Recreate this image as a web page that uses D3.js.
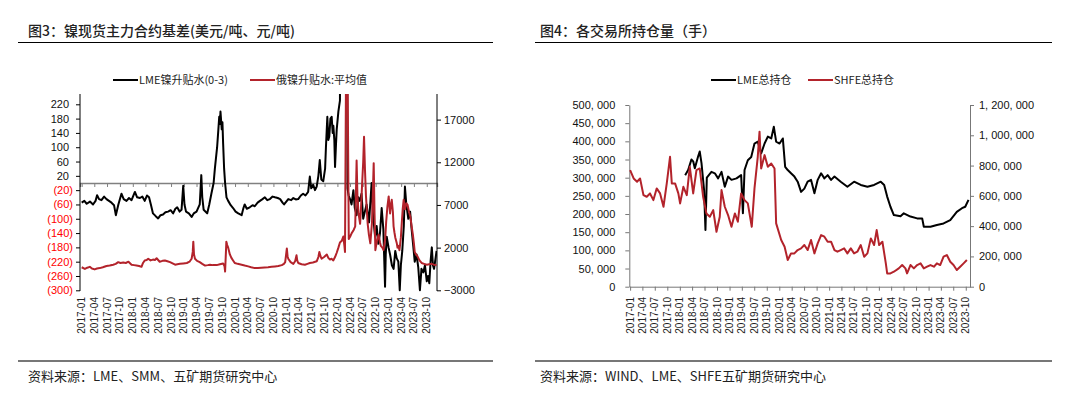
<!DOCTYPE html>
<html>
<head>
<meta charset="utf-8">
<script src="https://cdn.jsdelivr.net/npm/d3@7"></script>
<style>
  body { margin: 0; background: #fff; }
  .title { font-family: "Noto Sans CJK SC", sans-serif; font-size: 14px; font-weight: 500; fill: #222; }
  .legend { font-family: "Noto Sans CJK SC", sans-serif; font-size: 11px; fill: #222; }
  .source { font-family: "Noto Sans CJK SC", sans-serif; font-size: 13px; fill: #222; }
  .tick text { font-family: "Liberation Sans", Arial, sans-serif; font-size: 11px; }
  .xlab { font-family: "Liberation Sans", Arial, sans-serif; font-size: 10px; fill: #222; }
</style>
</head>
<body>
<div id="chart"></div>
<script>
// Step 1: Data
// =================================
var quarterLabels = ["2017-01","2017-04","2017-07","2017-10","2018-01","2018-04","2018-07","2018-10",
  "2019-01","2019-04","2019-07","2019-10","2020-01","2020-04","2020-07","2020-10",
  "2021-01","2021-04","2021-07","2021-10","2022-01","2022-04","2022-07","2022-10",
  "2023-01","2023-04","2023-07","2023-10"];

// 图3 left axis: LME镍升贴水(0-3), USD/t
var lmeBasis = [
  ["2017-01-01",-55],["2017-01-20",-50],["2017-02-06",-58],["2017-03-01",-52],["2017-03-23",-60],["2017-04-10",-50],
  ["2017-04-21",-34],["2017-05-05",-45],["2017-05-22",-48],["2017-06-10",-38],["2017-06-27",-45],["2017-07-15",-50],
  ["2017-08-02",-55],["2017-08-20",-62],["2017-09-02",-90],["2017-09-20",-60],["2017-10-12",-30],["2017-10-28",-45],
  ["2017-11-17",-50],["2017-12-05",-42],["2017-12-23",-48],["2018-01-16",-25],["2018-02-01",-40],["2018-02-21",-42],
  ["2018-03-10",-38],["2018-03-27",-50],["2018-04-12",-35],["2018-04-27",-40],["2018-05-10",-60],["2018-05-25",-85],
  ["2018-06-12",-92],["2018-07-01",-99],["2018-07-18",-90],["2018-08-05",-88],["2018-08-22",-82],["2018-09-10",-80],
  ["2018-09-28",-76],["2018-10-16",-85],["2018-11-01",-72],["2018-11-14",-68],["2018-12-01",-80],["2018-12-15",-75],
  ["2018-12-27",-8],["2019-01-05",-60],["2019-01-16",-80],["2019-02-05",-85],["2019-02-25",-95],["2019-03-12",-85],
  ["2019-04-01",-80],["2019-04-24",-60],["2019-05-05",22],["2019-05-12",-40],["2019-05-22",-75],["2019-06-16",-85],
  ["2019-07-01",-60],["2019-07-16",-30],["2019-08-01",0],["2019-08-10",40],["2019-08-26",100],["2019-09-04",150],
  ["2019-09-10",185],["2019-09-15",165],["2019-09-19",200],["2019-09-28",150],["2019-10-03",170],["2019-10-08",110],
  ["2019-10-15",40],["2019-10-22",0],["2019-11-01",-40],["2019-11-13",-50],["2019-12-01",-62],["2019-12-18",-70],
  ["2020-01-05",-80],["2020-01-24",-85],["2020-02-17",-90],["2020-03-01",-70],["2020-03-10",-60],["2020-03-25",-72],
  ["2020-04-15",-68],["2020-05-05",-62],["2020-05-21",-65],["2020-06-10",-55],["2020-06-27",-50],["2020-07-15",-45],
  ["2020-08-01",-40],["2020-08-18",-48],["2020-09-06",-45],["2020-09-25",-38],["2020-10-12",-40],["2020-11-01",-42],
  ["2020-11-18",-45],["2020-12-05",-55],["2020-12-16",-60],["2021-01-01",-52],["2021-01-15",-45],["2021-02-05",-48],
  ["2021-02-20",-42],["2021-03-10",-46],["2021-03-27",-45],["2021-04-15",-35],["2021-05-01",-30],["2021-05-18",-35],
  ["2021-06-06",-25],["2021-06-18",18],["2021-06-28",-15],["2021-07-12",-5],["2021-07-25",-20],["2021-08-06",-10],
  ["2021-08-18",20],["2021-08-28",64],["2021-09-08",10],["2021-09-22",5],["2021-10-05",40],["2021-10-11",100],
  ["2021-10-21",185],["2021-10-28",120],["2021-11-04",130],["2021-11-12",180],["2021-11-21",185],["2021-11-28",140],
  ["2021-12-03",160],["2021-12-10",120],["2021-12-15",45],["2021-12-22",110],["2021-12-27",150],["2022-01-08",200],
  ["2022-01-19",230],["2022-01-22",700],["2022-03-09",700],["2022-03-14",-15],["2022-03-22",-35],["2022-04-01",-45],
  ["2022-04-12",-60],["2022-04-25",-20],["2022-05-05",-70],["2022-05-18",-90],["2022-05-30",-40],["2022-06-10",-50],
  ["2022-06-22",-30],["2022-07-04",-100],["2022-07-16",-80],["2022-07-28",-60],["2022-08-15",-110],["2022-09-02",0],
  ["2022-09-12",-90],["2022-09-27",-150],["2022-10-08",-120],["2022-10-20",-170],["2022-11-01",-140],["2022-11-13",-70],
  ["2022-11-25",-130],["2022-12-07",-290],["2022-12-12",-200],["2022-12-19",-150],["2023-01-01",-180],["2023-01-12",-200],
  ["2023-01-25",-230],["2023-02-06",-240],["2023-02-18",-190],["2023-02-28",-210],["2023-03-12",-220],["2023-03-22",-300],
  ["2023-03-30",-230],["2023-04-09",-190],["2023-04-20",-120],["2023-04-28",-10],["2023-05-08",-60],["2023-05-22",-100],
  ["2023-06-04",-80],["2023-06-15",-130],["2023-06-25",-170],["2023-07-07",-220],["2023-07-20",-200],["2023-08-01",-235],
  ["2023-08-13",-300],["2023-08-24",-240],["2023-09-06",-250],["2023-09-18",-230],["2023-10-01",-275],["2023-10-10",-260],
  ["2023-10-19",-280],["2023-10-28",-220],["2023-11-06",-180],["2023-11-14",-230],["2023-11-22",-240],["2023-12-10",-190]
];

// 图3 right axis: 俄镍升贴水:平均值, CNY/t
var ruBasis = [
  ["2017-01-01",-300],["2017-01-24",-500],["2017-02-10",-350],["2017-02-28",-250],["2017-03-15",-450],["2017-04-04",-550],
  ["2017-04-20",-450],["2017-05-10",-400],["2017-06-01",-300],["2017-06-27",-150],["2017-07-20",-100],["2017-08-14",0],
  ["2017-09-01",100],["2017-09-19",300],["2017-10-05",200],["2017-10-25",250],["2017-11-12",200],["2017-12-01",350],
  ["2017-12-23",0],["2018-01-10",-50],["2018-01-27",-100],["2018-02-15",-150],["2018-03-04",-250],["2018-03-15",200],
  ["2018-03-27",500],["2018-04-10",550],["2018-04-21",700],["2018-05-08",500],["2018-05-25",600],["2018-06-08",550],
  ["2018-06-20",750],["2018-07-01",550],["2018-07-12",350],["2018-08-01",450],["2018-08-18",500],["2018-09-05",400],
  ["2018-09-24",300],["2018-10-12",150],["2018-10-30",0],["2018-11-15",50],["2018-12-04",100],["2018-12-28",150],
  ["2019-01-22",200],["2019-02-10",350],["2019-02-25",700],["2019-03-05",1500],["2019-03-09",2700],["2019-03-14",1200],
  ["2019-03-21",700],["2019-04-05",450],["2019-04-24",300],["2019-05-12",100],["2019-06-01",-100],["2019-06-20",-50],
  ["2019-07-06",0],["2019-07-25",-50],["2019-08-23",-50],["2019-09-15",50],["2019-10-08",150],["2019-10-18",-200],
  ["2019-10-22",-800],["2019-10-28",1500],["2019-10-31",2700],["2019-11-06",2300],["2019-11-13",2000],["2019-11-25",1200],
  ["2019-12-06",800],["2019-12-18",500],["2019-12-30",200],["2020-01-20",100],["2020-02-17",0],["2020-03-10",-100],
  ["2020-04-04",-200],["2020-04-25",-300],["2020-05-21",-400],["2020-06-12",-380],["2020-07-06",-350],["2020-07-30",-320],
  ["2020-08-24",-300],["2020-09-18",-250],["2020-10-12",-200],["2020-11-05",-150],["2020-11-30",-50],["2020-12-15",100],
  ["2020-12-24",300],["2021-01-05",1900],["2021-01-10",1000],["2021-01-15",700],["2021-02-01",300],["2021-02-20",100],
  ["2021-03-05",400],["2021-03-15",1100],["2021-03-20",500],["2021-03-27",200],["2021-04-20",50],["2021-05-14",0],
  ["2021-06-01",100],["2021-06-18",200],["2021-07-10",250],["2021-08-06",400],["2021-08-18",900],["2021-08-25",1500],
  ["2021-09-02",1000],["2021-09-10",700],["2021-09-28",900],["2021-10-17",1200],["2021-10-28",800],["2021-11-09",600],
  ["2021-11-20",700],["2021-12-03",500],["2021-12-15",900],["2021-12-27",1400],["2022-01-08",2000],["2022-01-19",2600],
  ["2022-02-01",2800],["2022-02-12",3300],["2022-02-20",2200],["2022-02-24",1500],["2022-03-04",24000],["2022-03-14",24000],
  ["2022-03-23",3000],["2022-04-02",3300],["2022-04-13",3700],["2022-04-25",4000],["2022-05-08",4500],["2022-05-14",9000],
  ["2022-05-18",12200],["2022-05-24",8000],["2022-06-01",6000],["2022-06-12",4800],["2022-06-18",6500],["2022-06-25",9000],
  ["2022-07-04",12000],["2022-07-10",15000],["2022-07-17",11000],["2022-07-24",8000],["2022-08-05",4800],["2022-08-14",3500],
  ["2022-08-24",2500],["2022-09-05",5000],["2022-09-12",9000],["2022-09-17",11900],["2022-09-23",6000],["2022-09-29",1700],
  ["2022-10-10",2800],["2022-10-22",3500],["2022-11-01",2600],["2022-11-07",2200],["2022-11-18",2000],["2022-11-26",1700],
  ["2022-12-08",3000],["2022-12-15",5000],["2022-12-24",6800],["2023-01-02",8000],["2023-01-07",7000],["2023-01-12",6000],
  ["2023-01-18",7000],["2023-01-24",7600],["2023-02-01",6200],["2023-02-06",4500],["2023-02-12",3800],["2023-02-18",3200],
  ["2023-03-01",2500],["2023-03-06",2000],["2023-03-13",2200],["2023-03-20",1700],["2023-03-30",3200],["2023-04-06",5000],
  ["2023-04-12",6500],["2023-04-19",7600],["2023-04-24",7000],["2023-04-28",6500],["2023-05-08",7200],["2023-05-17",7000],
  ["2023-05-27",6200],["2023-06-06",5600],["2023-06-15",4500],["2023-06-24",3500],["2023-07-01",2500],["2023-07-07",1500],
  ["2023-07-16",1200],["2023-07-26",1000],["2023-08-10",500],["2023-08-25",200],["2023-09-12",100],["2023-10-01",0],
  ["2023-10-18",50],["2023-11-06",100],["2023-11-20",0],["2023-12-10",-50]
];

// 图4 left axis: LME总持仓 (lots)
var lmeOI = [
  ["2018-02-09",307000],["2018-03-03",321000],["2018-03-27",350000],["2018-04-09",345000],["2018-04-21",326000],
  ["2018-05-15",358000],["2018-05-27",372000],["2018-06-09",340000],["2018-06-28",266000],["2018-07-08",156000],
  ["2018-07-18",300000],["2018-08-21",316000],["2018-09-15",312000],["2018-10-09",298000],["2018-11-03",316000],
  ["2018-11-27",275000],["2018-12-21",303000],["2019-01-15",294000],["2019-02-21",298000],["2019-03-27",307000],
  ["2019-04-09",202000],["2019-04-21",321000],["2019-05-15",348000],["2019-06-09",357000],["2019-07-03",394000],
  ["2019-07-27",399000],["2019-08-21",367000],["2019-09-15",394000],["2019-10-09",413000],["2019-11-03",408000],
  ["2019-11-22",440000],["2019-12-09",399000],["2020-01-03",394000],["2020-01-27",408000],["2020-02-13",330000],
  ["2020-03-03",321000],["2020-03-27",312000],["2020-04-21",303000],["2020-05-15",289000],["2020-06-09",261000],
  ["2020-07-03",270000],["2020-07-27",289000],["2020-08-21",294000],["2020-09-15",257000],["2020-10-09",294000],
  ["2020-11-03",312000],["2020-11-27",298000],["2020-12-21",307000],["2021-01-15",294000],["2021-02-09",303000],
  ["2021-03-27",289000],["2021-05-15",275000],["2021-07-03",289000],["2021-08-21",280000],["2021-10-09",275000],
  ["2021-11-27",280000],["2022-01-15",289000],["2022-02-09",280000],["2022-03-03",248000],["2022-03-27",220000],
  ["2022-04-21",197000],["2022-06-09",194000],["2022-07-03",202000],["2022-08-21",193000],["2022-10-09",188000],
  ["2022-11-15",188000],["2022-11-27",165000],["2023-01-15",165000],["2023-03-03",170000],["2023-04-21",174000],
  ["2023-06-09",183000],["2023-07-27",206000],["2023-09-03",216000],["2023-09-27",220000],["2023-10-21",239000]
];

// 图4 right axis: SHFE总持仓 (lots)
var shfeOI = [
  ["2017-01-01",770000],["2017-01-27",715000],["2017-02-21",693000],["2017-03-15",715000],["2017-04-09",605000],
  ["2017-05-03",594000],["2017-05-27",616000],["2017-06-21",572000],["2017-07-15",649000],["2017-08-09",616000],
  ["2017-09-03",528000],["2017-09-27",682000],["2017-10-21",858000],["2017-11-03",682000],["2017-11-27",682000],
  ["2017-12-21",616000],["2018-01-03",550000],["2018-01-27",660000],["2018-02-21",605000],["2018-03-15",792000],
  ["2018-04-09",616000],["2018-05-03",770000],["2018-05-27",781000],["2018-06-21",594000],["2018-07-15",484000],
  ["2018-08-09",462000],["2018-09-03",506000],["2018-09-27",363000],["2018-10-21",462000],["2018-11-03",638000],
  ["2018-11-27",528000],["2018-12-21",473000],["2019-01-15",396000],["2019-02-09",484000],["2019-03-03",429000],
  ["2019-03-27",616000],["2019-04-21",572000],["2019-05-15",550000],["2019-06-13",396000],["2019-07-03",649000],
  ["2019-07-27",858000],["2019-08-09",1024000],["2019-08-21",781000],["2019-09-15",869000],["2019-10-09",792000],
  ["2019-11-03",814000],["2019-11-27",781000],["2019-12-09",418000],["2020-01-15",308000],["2020-02-09",264000],
  ["2020-03-03",176000],["2020-03-27",220000],["2020-04-21",220000],["2020-05-15",242000],["2020-06-09",253000],
  ["2020-07-03",275000],["2020-07-27",242000],["2020-08-21",308000],["2020-09-15",220000],["2020-10-09",286000],
  ["2020-11-03",341000],["2020-11-27",330000],["2020-12-21",297000],["2021-01-15",297000],["2021-02-09",242000],
  ["2021-03-03",231000],["2021-03-27",242000],["2021-04-21",253000],["2021-05-15",220000],["2021-06-09",253000],
  ["2021-07-03",220000],["2021-07-27",231000],["2021-08-21",275000],["2021-09-15",198000],["2021-10-09",220000],
  ["2021-11-03",319000],["2021-11-27",275000],["2021-12-16",374000],["2022-01-03",275000],["2022-01-27",297000],
  ["2022-02-21",154000],["2022-03-03",88000],["2022-03-27",88000],["2022-04-21",99000],["2022-05-27",121000],
  ["2022-06-21",143000],["2022-07-15",121000],["2022-07-27",88000],["2022-08-21",143000],["2022-09-15",121000],
  ["2022-10-09",143000],["2022-11-03",154000],["2022-11-27",121000],["2022-12-21",132000],["2023-01-15",143000],
  ["2023-02-09",132000],["2023-03-03",154000],["2023-03-27",143000],["2023-04-21",198000],["2023-05-15",209000],
  ["2023-06-09",165000],["2023-07-03",143000],["2023-07-27",110000],["2023-08-21",132000],["2023-09-15",154000],
  ["2023-10-09",176000]
];

var basisLeftTicks  = [220, 180, 140, 100, 60, 20, -20, -60, -100, -140, -180, -220, -260, -300];
var basisRightTicks = [17000, 12000, 7000, 2000, -3000];
var oiLeftTicks  = [0, 50000, 100000, 150000, 200000, 250000, 300000, 350000, 400000, 450000, 500000];
var oiRightTicks = [0, 200000, 400000, 600000, 800000, 1000000, 1200000];

// Step 2: Set up the svg
// =================================
var svgWidth = 1071;
var svgHeight = 393;
var black = "#000000";
var red = "#b3232b";

var parseDate = d3.timeParse("%Y-%m-%d");
var quarterDates = quarterLabels.map(s => parseDate(s + "-01"));

var svg = d3.select("#chart")
  .append("svg")
  .attr("width", svgWidth)
  .attr("height", svgHeight);

// titles, rules and sources
function header(x0, x1, titleX, title, source) {
  svg.append("text").attr("class", "title")
    .attr("x", titleX).attr("y", 36).text(title);
  svg.append("line")
    .attr("x1", x0).attr("x2", x1).attr("y1", 42.5).attr("y2", 42.5)
    .attr("stroke", "#000").attr("stroke-width", 1);
  svg.append("line")
    .attr("x1", x0).attr("x2", x1).attr("y1", 361).attr("y2", 361)
    .attr("stroke", "#777").attr("stroke-width", 2);
  svg.append("text").attr("class", "source")
    .attr("x", titleX).attr("y", 381).text(source);
}
header(18, 493, 28, "图3：镍现货主力合约基差(美元/吨、元/吨)", "资料来源：LME、SMM、五矿期货研究中心");
header(535, 1052, 540, "图4：各交易所持仓量（手）", "资料来源：WIND、LME、SHFE五矿期货研究中心");

function legendItem(x, color, label) {
  svg.append("line")
    .attr("x1", x).attr("x2", x + 25).attr("y1", 80).attr("y2", 80)
    .attr("stroke", color).attr("stroke-width", 2);
  svg.append("text").attr("class", "legend")
    .attr("x", x + 26).attr("y", 84).text(label);
}
legendItem(113, black, "LME镍升贴水(0-3)");
legendItem(250, red, "俄镍升贴水:平均值");
legendItem(711, black, "LME总持仓");
legendItem(808, red, "SHFE总持仓");

// Step 3: 图3 basis chart
// =================================
var x3 = d3.scaleTime()
  .domain([parseDate("2016-12-20"), parseDate("2023-12-13")])
  .range([80, 437]);
var y3Left = d3.scaleLinear().domain([-300, 248.8]).range([290.3, 94]);
var y3Right = d3.scaleLinear().domain([-3000, 20000]).range([290.3, 94]);

svg.append("defs").append("clipPath").attr("id", "clip3")
  .append("rect").attr("x", 80).attr("y", 94).attr("width", 357).attr("height", 198);

// zero line with quarter ticks
svg.append("g")
  .attr("transform", `translate(0, ${y3Left(0)})`)
  .call(d3.axisBottom(x3).tickValues(quarterDates).tickSize(4).tickFormat(""))
  .call(g => g.select(".domain").attr("stroke", "#808080").attr("stroke-width", 1.3))
  .call(g => g.selectAll(".tick line").attr("stroke", "#808080"));

var leftAxis3 = svg.append("g")
  .attr("transform", "translate(80, 0)")
  .call(d3.axisLeft(y3Left).tickValues(basisLeftTicks).tickSize(4).tickSizeOuter(0)
    .tickFormat(d => d < 0 ? "(" + (-d) + ")" : d));
leftAxis3.select(".domain").attr("d", "M0,94V291");
leftAxis3.selectAll(".tick text")
  .attr("fill", d => d < 0 ? "#ff0000" : "#111")
  .attr("dx", d => d < 0 ? 0 : -4);

svg.append("g")
  .attr("transform", "translate(437, 0)")
  .call(d3.axisRight(y3Right).tickValues(basisRightTicks).tickSize(4).tickSizeOuter(0)
    .tickFormat(d => d < 0 ? "\u2212" + (-d) : d))
  .call(g => g.select(".domain").attr("d", "M0,94V291"))
  .call(g => g.selectAll(".tick text").attr("fill", "#111"));

var line3Left = d3.line().x(d => x3(parseDate(d[0]))).y(d => y3Left(d[1]));
var line3Right = d3.line().x(d => x3(parseDate(d[0]))).y(d => y3Right(d[1]));

var plot3 = svg.append("g").attr("clip-path", "url(#clip3)");
plot3.append("path").datum(lmeBasis)
  .attr("d", line3Left).attr("fill", "none")
  .attr("stroke", black).attr("stroke-width", 2).attr("stroke-linejoin", "round");
plot3.append("path").datum(ruBasis)
  .attr("d", line3Right).attr("fill", "none")
  .attr("stroke", red).attr("stroke-width", 2).attr("stroke-linejoin", "round");

svg.append("g").selectAll("text")
  .data(quarterDates)
  .enter().append("text")
  .attr("class", "xlab")
  .attr("transform", d => `translate(${x3(d) + 3.5}, 297) rotate(-90)`)
  .attr("text-anchor", "end")
  .text((d, i) => quarterLabels[i]);

// Step 4: 图4 open interest chart
// =================================
var x4 = d3.scaleTime()
  .domain([parseDate("2016-12-26"), parseDate("2023-11-01")])
  .range([629.3, 970]);
var y4Left = d3.scaleLinear().domain([0, 500000]).range([286.7, 105]);
var y4Right = d3.scaleLinear().domain([0, 1200000]).range([286.7, 105]);
var fmtComma = d => d3.format(",")(d).replace(/,/g, ", ");

svg.append("g")
  .attr("transform", "translate(629.3, 0)")
  .call(d3.axisLeft(y4Left).tickValues(oiLeftTicks).tickSize(4).tickSizeOuter(0).tickFormat(fmtComma))
  .call(g => g.select(".domain").attr("stroke", "#777"))
  .call(g => g.selectAll(".tick line").attr("stroke", "#777"))
  .call(g => g.selectAll(".tick text").attr("fill", "#111").attr("x", -14));

svg.append("g")
  .attr("transform", "translate(970, 0)")
  .call(d3.axisRight(y4Right).tickValues(oiRightTicks).tickSize(4).tickSizeOuter(0).tickFormat(fmtComma))
  .call(g => g.select(".domain").attr("stroke", "#777"))
  .call(g => g.selectAll(".tick line").attr("stroke", "#777"))
  .call(g => g.selectAll(".tick text").attr("fill", "#111").attr("x", 9));

svg.append("g")
  .attr("transform", "translate(0, 286.7)")
  .call(d3.axisBottom(x4).tickValues(quarterDates).tickSize(4).tickSizeOuter(0).tickFormat(""))
  .call(g => g.select(".domain").attr("stroke", "#777"))
  .call(g => g.selectAll(".tick line").attr("stroke", "#777"));

var line4Left = d3.line().x(d => x4(parseDate(d[0]))).y(d => y4Left(d[1]));
var line4Right = d3.line().x(d => x4(parseDate(d[0]))).y(d => y4Right(d[1]));

svg.append("path").datum(lmeOI)
  .attr("d", line4Left).attr("fill", "none")
  .attr("stroke", black).attr("stroke-width", 2).attr("stroke-linejoin", "round");
svg.append("path").datum(shfeOI)
  .attr("d", line4Right).attr("fill", "none")
  .attr("stroke", red).attr("stroke-width", 2).attr("stroke-linejoin", "round");

svg.append("g").selectAll("text")
  .data(quarterDates)
  .enter().append("text")
  .attr("class", "xlab")
  .attr("transform", d => `translate(${x4(d) + 3.5}, 297) rotate(-90)`)
  .attr("text-anchor", "end")
  .text((d, i) => quarterLabels[i]);
</script>
</body>
</html>
